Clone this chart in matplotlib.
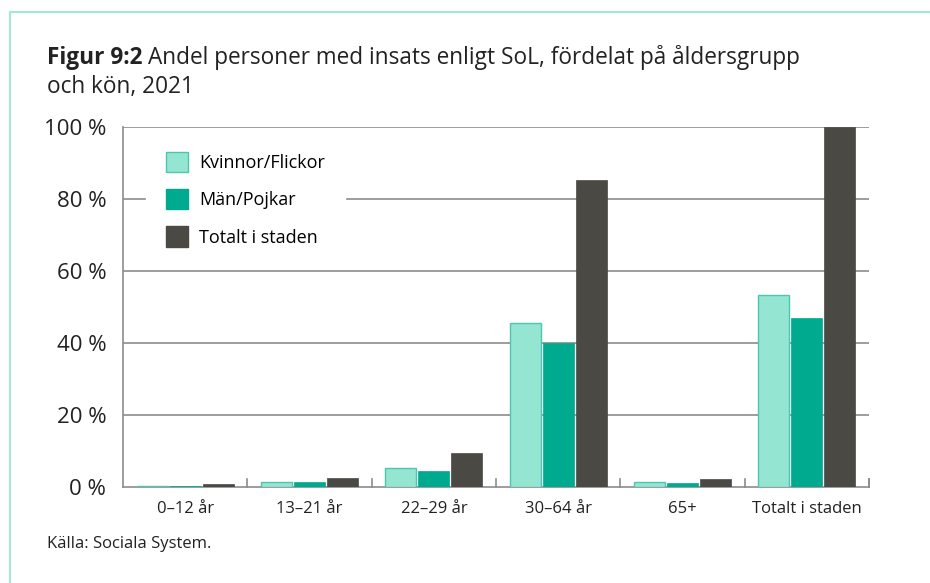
import numpy as np
import matplotlib
matplotlib.use("Agg")
import matplotlib.pyplot as plt
from matplotlib.lines import Line2D
from matplotlib.patches import Patch

plt.rcParams['font.family'] = ['Open Sans', 'DejaVu Sans']

# Data
categories = ["0–12 år", "13–21 år", "22–29 år", "30–64 år", "65+", "Totalt i staden"]
kvinnor = [0.4, 1.3, 5.3, 45.5, 1.3, 53.4]
man = [0.4, 1.3, 4.4, 40.0, 1.0, 46.9]
totalt = [0.8, 2.5, 9.5, 85.4, 2.2, 100.0]
series_names = ["Kvinnor/Flickor", "Män/Pojkar", "Totalt i staden"]
yticks = [0, 20, 40, 60, 80, 100]
ytick_labels = ["0 %", "20 %", "40 %", "60 %", "80 %", "100 %"]

light = "#95e5d3"
light_edge = "#4cc6ad"
mid = "#00aa8f"
dark = "#4a4944"
grid_col = "#8c8c8c"
frame_col = "#a6e8d8"
text_col = "#222222"

fig = plt.figure(figsize=(9.3, 5.83), dpi=100)
W, H = 930, 583
ax = fig.add_axes([123 / W, 1 - 487 / H, (869 - 123) / W, (487 - 127) / H])

x = np.arange(len(categories))
bw = 0.25
step = 0.265
ax.bar(x - step, kvinnor, bw, color=light, edgecolor=light_edge, linewidth=1, zorder=3)
ax.bar(x, man, bw, color=mid, edgecolor=mid, linewidth=0.5, zorder=3)
ax.bar(x + step, totalt, bw, color=dark, edgecolor=dark, linewidth=0.5, zorder=3)

ax.set_xlim(-0.5, len(categories) - 0.5)
ax.set_ylim(0, 100)
ax.set_yticks(yticks)
ax.set_yticklabels(ytick_labels, fontsize=16, color=text_col)
ax.tick_params(axis="y", length=0, pad=12)

ax.set_xticks(x)
ax.set_xticklabels(categories, fontsize=12, color=text_col)
ax.tick_params(axis="x", length=0, pad=10)
# group separators on the baseline
for b in np.arange(0.5, len(categories), 1.0):
    ax.plot([b, b], [0, 2.2], color=grid_col, lw=1.2, zorder=2, clip_on=False)
ax.plot([len(categories) - 0.5] * 2, [0, 2.2], color=grid_col, lw=1.2, zorder=2, clip_on=False)

for yv in yticks[1:]:
    ax.axhline(yv, color=grid_col, lw=1.2, zorder=1)

for s in ["top", "right"]:
    ax.spines[s].set_visible(False)
for s in ["left", "bottom"]:
    ax.spines[s].set_color(grid_col)
    ax.spines[s].set_linewidth(1.2)

handles = [Patch(facecolor=light, edgecolor=light_edge),
           Patch(facecolor=mid, edgecolor=mid),
           Patch(facecolor=dark, edgecolor=dark)]
leg = ax.legend(handles, series_names, loc="upper left", bbox_to_anchor=(0.045, 0.957),
                frameon=True, fontsize=13, handlelength=1.25, handleheight=1.35,
                labelspacing=0.95, handletextpad=0.6, borderpad=0.5, borderaxespad=0)
leg.get_frame().set_facecolor("white")
leg.get_frame().set_edgecolor("white")
leg.get_frame().set_alpha(1)
leg.get_frame().set_boxstyle("square", pad=0.6)
leg.set_zorder(4)

# Title: bold lead-in followed by regular text
title_size = 16.3
t1 = fig.text(47 / W, 1 - 58 / H, "Figur 9:2", fontsize=title_size, fontweight="bold",
              color=text_col, va="center")
fig.canvas.draw()
bb = t1.get_window_extent()
fig.text(bb.x1 / W + 5 / W, 1 - 58 / H,
         "Andel personer med insats enligt SoL, fördelat på åldersgrupp",
         fontsize=title_size, color=text_col, va="center")
fig.text(47 / W, 1 - 87 / H, "och kön, 2021", fontsize=title_size, color=text_col, va="center")

fig.text(47 / W, 1 - 544 / H, "Källa: Sociala System.", fontsize=12,
         color=text_col, va="center")

# Panel border
fig.add_artist(Line2D([10 / W, 1], [1 - 12 / H] * 2, color=frame_col, lw=1.5))
fig.add_artist(Line2D([10 / W] * 2, [0, 1 - 12 / H], color=frame_col, lw=1.5))

fig.savefig("out.png", dpi=100)
